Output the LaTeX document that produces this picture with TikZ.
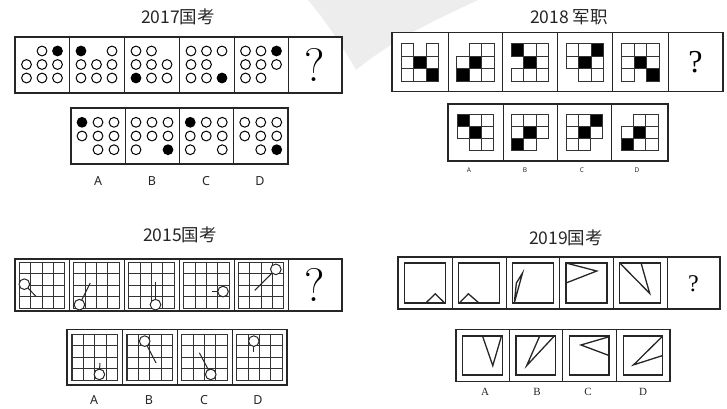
\documentclass[tikz,border=0pt]{standalone}
\usepackage{fontspec}
\newfontfamily\cjk{Noto Sans CJK SC}
\newfontfamily\lsans{Noto Sans}
\newfontfamily\tms{Liberation Serif}
\newcommand\cgrid[5]{%
  \foreach \t [count=\i from 0] in {#5}{%
    \pgfmathtruncatemacro\cgc{mod(\i,3)-1}%
    \pgfmathtruncatemacro\cgr{div(\i,3)-1}%
    \ifnum\t=1 \draw[wc] ({#1+\cgc*#3},{#2+\cgr*#4}) circle (4.9);\fi
    \ifnum\t=2 \fill[black] ({#1+\cgc*#3},{#2+\cgr*#4}) circle (5.4);\fi
  }}
\newcommand\sgrid[4]{%
  \foreach \t [count=\i from 0] in {#4}{%
    \pgfmathtruncatemacro\cgc{mod(\i,3)}%
    \pgfmathtruncatemacro\cgr{div(\i,3)}%
    \ifnum\t=1 \draw[sq] ({#1+(\cgc-1.5)*#3},{#2+(\cgr-1.5)*#3}) rectangle ++(#3,#3);\fi
    \ifnum\t=2 \draw[sq,fill=black] ({#1+(\cgc-1.5)*#3},{#2+(\cgr-1.5)*#3}) rectangle ++(#3,#3);\fi
  }}
\newcommand\lgrid[6]{%
  \begin{scope}[shift={(#1,#2)}]
    \foreach \k in {0,...,4}{\draw[gl] (\k*11.4,0) -- (\k*11.4,45.6); \draw[gl] (0,\k*11.4) -- (45.6,\k*11.4);}
    \draw[gl,line width=1.2pt] (0,0) rectangle (45.6,45.6);
    \draw[seg] (#3*11.4,#4*11.4) -- (#5*11.4,#6*11.4);
    \draw[seg,fill=white] (#3*11.4,#4*11.4) circle (5.3);
  \end{scope}}
\newcommand\tsq[5]{%
  \begin{scope}[shift={({#1-#3/2},#2)}]
    \draw[tl] (0,0) rectangle (#3,#4);
    \begin{scope}[x=#3pt,y=-#4pt]
      \draw[tl] #5;
    \end{scope}
  \end{scope}}
\begin{document}
\begin{tikzpicture}[x=1pt,y=-1pt,
  frame/.style={draw=black!85,line width=1.2pt,fill=white},
  div/.style={draw=black!85,line width=0.9pt},
  wc/.style={draw=black,line width=1pt,fill=white},
  sq/.style={draw=black!80,line width=0.9pt,fill=white},
  gl/.style={draw=black!80,line width=0.85pt},
  seg/.style={draw=black!85,line width=1pt},
  tl/.style={draw=black!85,line width=1.3pt,line join=miter},
  ttl/.style={font=\cjk\fontsize{17.5}{20}\selectfont,text=black!85},
  lab/.style={font=\lsans\fontsize{12.5}{14}\selectfont,text=black!85},
  slab/.style={font=\lsans\bfseries\fontsize{6.5}{8}\selectfont,text=black!85},
  tlab/.style={font=\tms\fontsize{11}{13}\selectfont,text=black!85},
  qbig/.style={font=\fontsize{47}{50}\selectfont},
  qmid/.style={font=\tms\fontsize{32}{36}\selectfont},
  qsm/.style={font=\tms\fontsize{24}{28}\selectfont}]
\useasboundingbox (0,0) rectangle (727,408);
% watermark
\fill[black!7] (308,0) -- (478,0) .. controls (440,18) and (395,38) .. (356,70) .. controls (345,50) and (325,20) .. (308,0) -- cycle;

% ---------- Panel 1: 2017
\node[ttl] (t1) at (178,17) {2017国考};
\draw[frame] (15,37) rectangle (342,93);
\foreach \x in {69,124,179,234,288} \draw[div] (\x,37) -- (\x,93);
\cgrid{42}{64.5}{15.5}{13.5}{0,1,2,1,1,1,1,1,1}
\cgrid{96.5}{64.5}{15.5}{13.5}{2,0,1,1,1,1,1,1,1}
\cgrid{151.5}{64.5}{15.5}{13.5}{1,1,0,1,1,1,2,1,1}
\cgrid{206.5}{64.5}{15.5}{13.5}{1,1,1,1,1,0,1,1,2}
\cgrid{261}{64.5}{15.5}{13.5}{1,1,2,1,1,1,1,1,0}
\node[qbig] (q1) at (315,65) {?};
\draw[frame] (71,108) rectangle (288,164);
\foreach \x in {125,179,233.5} \draw[div] (\x,108) -- (\x,164);
\cgrid{98}{136}{16}{13.7}{2,1,1,1,1,1,0,1,1}
\cgrid{152}{136}{16}{13.7}{1,1,1,1,1,1,1,0,2}
\cgrid{206.25}{136}{16}{13.7}{2,1,1,1,1,1,1,0,1}
\cgrid{260.75}{136}{16}{13.7}{1,1,1,1,1,1,0,1,2}
\node[lab] (a1) at (98,181) {A};
\node[lab] (b1) at (152,181) {B};
\node[lab] (c1) at (206,181) {C};
\node[lab] (d1) at (260,181) {D};

% ---------- Panel 2: 2018
\node[ttl] (t2) at (569,17) {2018 军职};
\draw[frame] (392,32.5) rectangle (723,91.5);
\foreach \x in {448,502.5,557.5,612.5,668} \draw[div] (\x,32.5) -- (\x,91.5);
\sgrid{420}{62.5}{12.5}{1,0,1,1,2,1,1,1,2}
\sgrid{475.25}{62.5}{12.5}{0,1,1,1,2,1,2,1,1}
\sgrid{530}{62.5}{12.5}{2,1,1,0,2,1,1,1,1}
\sgrid{585}{62.5}{12.5}{1,1,2,1,2,1,0,1,1}
\sgrid{640.25}{62.5}{12.5}{1,1,1,1,2,1,1,0,2}
\node[qmid] (q2) at (695.5,62) {?};
\draw[frame] (448,104) rectangle (668,161);
\foreach \x in {503,557,611.5} \draw[div] (\x,104) -- (\x,161);
\sgrid{475.5}{132.5}{12.2}{2,1,1,1,2,1,0,1,1}
\sgrid{530}{132.5}{12.2}{1,1,1,1,2,1,2,1,0}
\sgrid{584.25}{132.5}{12.2}{1,1,2,1,2,1,1,1,0}
\sgrid{639.75}{132.5}{12.2}{0,1,1,1,2,1,2,1,1}
\node[slab] (a2) at (469,170.5) {A};
\node[slab] (b2) at (525,170.5) {B};
\node[slab] (c2) at (582,170.5) {C};
\node[slab] (d2) at (637,170.5) {D};

% ---------- Panel 3: 2015
\node[ttl] (t3) at (180,235) {2015国考};
\draw[frame] (15,259) rectangle (342,311);
\foreach \x in {69,124,179,234,288} \draw[div] (\x,259) -- (\x,311);
\lgrid{19.2}{262.5}{0.45}{1.9}{1.45}{2.95}
\lgrid{73.7}{262.5}{0.5}{3.7}{1.45}{1.8}
\lgrid{128.7}{262.5}{2.35}{3.7}{2.35}{1.75}
\lgrid{183.7}{262.5}{3.45}{2.55}{2.45}{2.55}
\lgrid{238.2}{262.5}{3.3}{0.6}{1.45}{2.45}
\node[qbig] (q3) at (315,285) {?};
\draw[frame] (67,329.5) rectangle (287,385);
\foreach \x in {122.5,177,232} \draw[div] (\x,329.5) -- (\x,385);
\lgrid{72}{334.5}{2.4}{3.5}{2.45}{2.5}
\lgrid{127}{334.5}{1.55}{0.58}{2.55}{2.5}
\lgrid{181.7}{334.5}{2.55}{3.5}{1.55}{1.6}
\lgrid{236.7}{334.5}{1.5}{0.58}{1.5}{1.5}
\node[lab] (a3) at (94,400) {A};
\node[lab] (b3) at (149,400) {B};
\node[lab] (c3) at (204,400) {C};
\node[lab] (d3) at (258,400) {D};

% ---------- Panel 4: 2019
\node[ttl] (t4) at (566,238) {2019国考};
\draw[frame] (398,257) rectangle (720,309);
\foreach \x in {452,506,559.5,613.5,667} \draw[div] (\x,257) -- (\x,309);
\tsq{425}{263}{41}{40}{(0.52,1) -- (0.75,0.77) -- (0.98,1)}
\tsq{479}{263}{41}{40}{(0.02,1) -- (0.24,0.77) -- (0.5,1)}
\tsq{532.75}{263}{41}{40}{(0.05,1) -- (0.25,0.25) -- (0.1,0.5) -- cycle}
\tsq{586.5}{263}{41}{40}{(0,0) -- (0.75,0.2) -- (0,0.5)}
\tsq{640.25}{263}{41}{40}{(0.52,0) -- (0.73,0.76) -- (0,0)}
\node[qsm] (q4) at (693.5,284) {?};
\draw[frame] (456,329.5) rectangle (670,381.5);
\foreach \x in {509,562.5,616} \draw[div] (\x,329.5) -- (\x,381.5);
\tsq{482.5}{336}{39.5}{39}{(0.5,0) -- (0.76,0.76) -- (0.98,0)}
\tsq{535.75}{336}{39.5}{39}{(0.6,0) -- (0.27,0.76) -- (0.97,0)}
\tsq{589.25}{336}{39.5}{39}{(1,0.02) -- (0.29,0.23) -- (1,0.5)}
\tsq{643}{336}{39.5}{39}{(1,0) -- (0.26,0.74) -- (1,0.5)}
\node[tlab] (a4) at (485,391.5) {A};
\node[tlab] (b4) at (537,391.5) {B};
\node[tlab] (c4) at (588,391.5) {C};
\node[tlab] (d4) at (643,391.5) {D};
\end{tikzpicture}
\end{document}
